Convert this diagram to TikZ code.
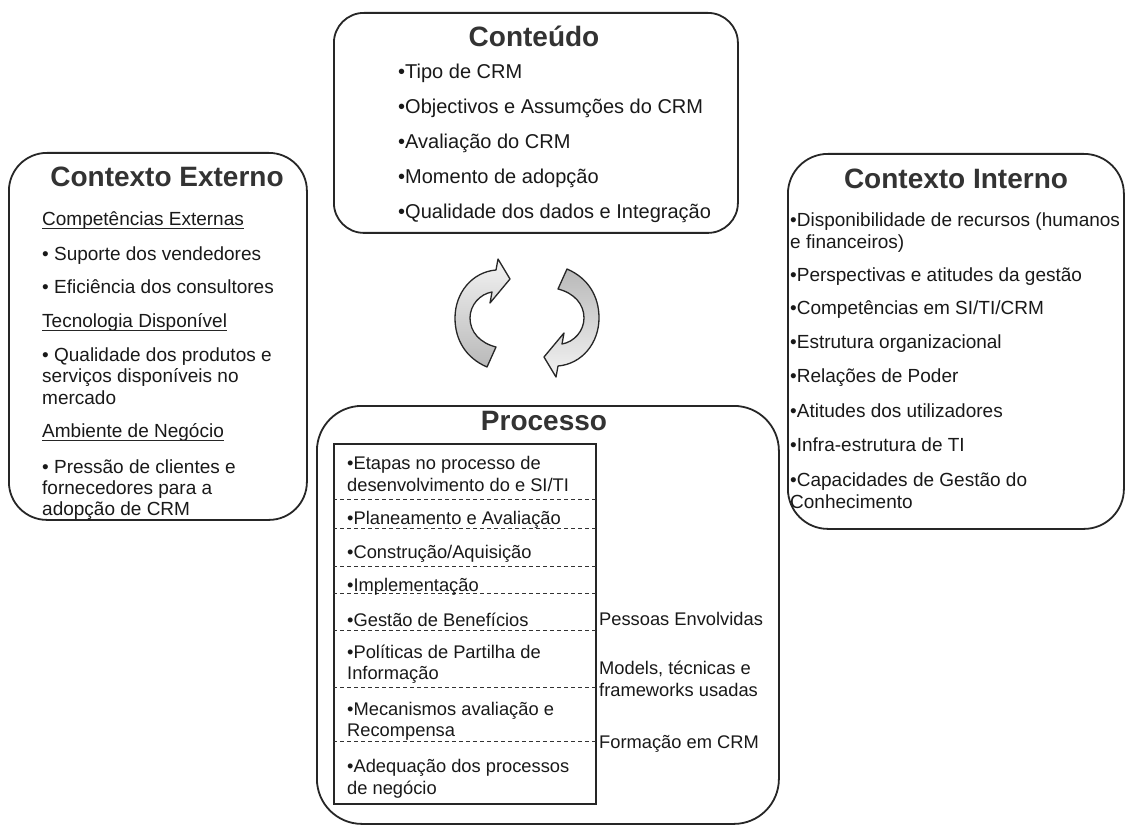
\documentclass[tikz,border=0pt]{standalone}
\usepackage{fontspec}
\setmainfont{Liberation Sans}
\begin{document}
\begin{tikzpicture}[x=1pt,y=-1pt,
  box/.style={draw=black!85, line width=1.8pt, rounded corners=#1, inner sep=0pt, anchor=north west},
  ttl/.style={font=\fontsize{28}{32}\selectfont\bfseries, text=black!80, inner sep=0pt, anchor=base},
  ctxt/.style={font=\fontsize{20}{22}\selectfont, text=black!90, inner sep=0pt, anchor=base west},
  etxt/.style={font=\fontsize{19}{22}\selectfont, text=black!90, inner sep=0pt, anchor=base west},
  ptxt/.style={font=\fontsize{18.3}{22}\selectfont, text=black!90, inner sep=0pt, anchor=base west},
  uline/.style={draw=black!85, line width=1pt},
  sep/.style={draw=black!80, line width=1pt, dash pattern=on 4pt off 3pt},
  cyc/.style={draw=black!85, line width=1.3pt, line join=round}
]
\useasboundingbox (0,0) rectangle (1126,826);
\fill[white] (0,0) rectangle (1126,826);

% ---------- Conteudo ----------
\node[box=30, minimum width=404, minimum height=220] (cont) at (333,12) {};
\node[ttl] (contT) at (534,47) {Conteúdo};
\node[ctxt] (c1) at (398,79) {•Tipo de CRM};
\node[ctxt] (c2) at (398,114) {•Objectivos e Assumções do CRM};
\node[ctxt] (c3) at (398,149) {•Avaliação do CRM};
\node[ctxt] (c4) at (398,184) {•Momento de adopção};
\node[ctxt] (c5) at (398,219) {•Qualidade dos dados e Integração};

% ---------- Contexto Externo ----------
\node[box=38, minimum width=298, minimum height=367] (ext) at (8,152) {};
\node[ttl] (extT) at (167,187) {Contexto Externo};
\node[etxt] (e1) at (42,226) {Competências Externas};
\node[etxt] (e2) at (42,261) {• Suporte dos vendedores};
\node[etxt] (e3) at (42,293) {• Eficiência dos consultores};
\node[etxt] (e4) at (42,327) {Tecnologia Disponível};
\node[etxt] (e5) at (42,361) {• Qualidade dos produtos e};
\node[etxt] (e6) at (42,382) {serviços disponíveis no};
\node[etxt] (e7) at (42,404) {mercado};
\node[etxt] (e8) at (42,437) {Ambiente de Negócio};
\node[etxt] (e9) at (42,473) {• Pressão de clientes e};
\node[etxt] (e10) at (42,494) {fornecedores para a};
\node[etxt] (e11) at (42,515) {adopção de CRM};
\foreach \n in {e1,e4,e8}
  \draw[uline] ([yshift=-3pt]\n.base west) -- ([yshift=-3pt]\n.base east);

% ---------- Contexto Interno ----------
\node[box=40, minimum width=336, minimum height=375] (int) at (787,153) {};
\node[ttl] (intT) at (956,189) {Contexto Interno};
\node[etxt] (i1) at (790,227) {•Disponibilidade de recursos (humanos};
\node[etxt] (i2) at (790,248) {e financeiros)};
\node[etxt] (i3) at (790,281) {•Perspectivas e atitudes da gestão};
\node[etxt] (i4) at (790,314) {•Competências em SI/TI/CRM};
\node[etxt] (i5) at (790,348) {•Estrutura organizacional};
\node[etxt] (i6) at (790,382) {•Relações de Poder};
\node[etxt] (i7) at (790,417) {•Atitudes dos utilizadores};
\node[etxt] (i8) at (790,451) {•Infra-estrutura de TI};
\node[etxt] (i9) at (790,486) {•Capacidades de Gestão do};
\node[etxt] (i10) at (790,508) {Conhecimento};

% ---------- Processo ----------
\node[box=45, minimum width=462, minimum height=418] (proc) at (316,405) {};
\node[ttl] (procT) at (544,430) {Processo};
\node[draw=black!85, line width=1.5pt, minimum width=262, minimum height=360,
      anchor=north west, inner sep=0pt] (steps) at (333,443) {};
\foreach \yy in {499,528,566,593,630,687,741}
  \draw[sep] (steps.west |- 0,\yy) -- (steps.east |- 0,\yy);
\node[ptxt] (p1) at (347,469) {•Etapas no processo de};
\node[ptxt] (p2) at (347,491) {desenvolvimento do e SI/TI};
\node[ptxt] (p3) at (347,524) {•Planeamento e Avaliação};
\node[ptxt] (p4) at (347,558) {•Construção/Aquisição};
\node[ptxt] (p5) at (347,591) {•Implementação};
\node[ptxt] (p6) at (347,626) {•Gestão de Benefícios};
\node[ptxt] (p7) at (347,658) {•Políticas de Partilha de};
\node[ptxt] (p8) at (347,679) {Informação};
\node[ptxt] (p9) at (347,715) {•Mecanismos avaliação e};
\node[ptxt] (p10) at (347,736) {Recompensa};
\node[ptxt] (p11) at (347,772) {•Adequação dos processos};
\node[ptxt] (p12) at (347,794) {de negócio};
\node[ptxt] (r1) at (599,625) {Pessoas Envolvidas};
\node[ptxt] (r2) at (599,674) {Models, técnicas e};
\node[ptxt] (r3) at (599,696) {frameworks usadas};
\node[ptxt] (r4) at (599,748) {Formação em CRM};

% ---------- cycle arrows ----------
\path[cyc, top color=gray!10, bottom color=gray!55]
  (487,367) .. controls (466,358) and (455,340) .. (455,318)
  .. controls (455,293) and (472,272) .. (496,270)
  -- (498,259) -- (510,279) -- (490,303) -- (492,292)
  .. controls (480,294) and (470,305) .. (470,318)
  .. controls (470,332) and (480,343) .. (496,347) -- cycle;
\path[cyc, top color=gray!55, bottom color=gray!10]
  (567,269) .. controls (588,278) and (599,296) .. (599,318)
  .. controls (599,343) and (582,364) .. (558,366)
  -- (556,377) -- (544,357) -- (564,333) -- (562,344)
  .. controls (574,342) and (584,331) .. (584,318)
  .. controls (584,304) and (574,293) .. (558,289) -- cycle;
\end{tikzpicture}
\end{document}
